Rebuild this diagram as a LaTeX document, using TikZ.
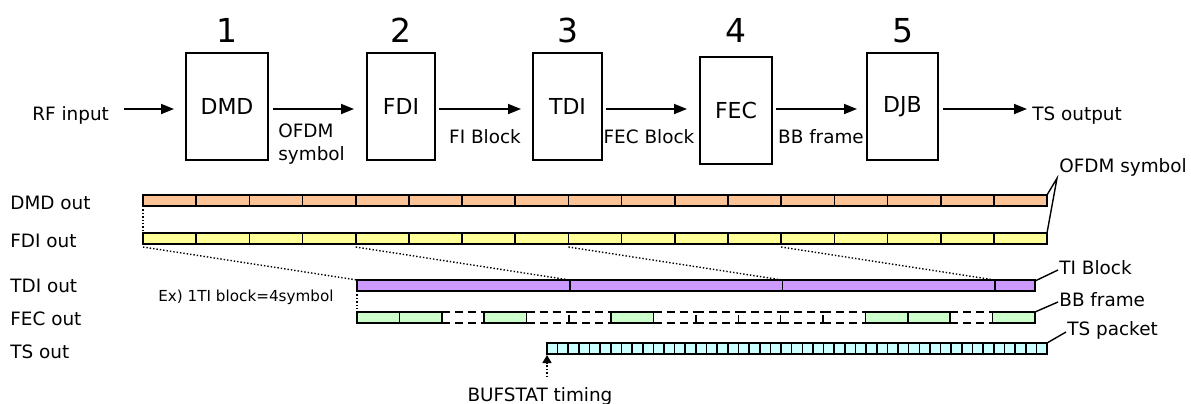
\documentclass[tikz,border=0pt]{standalone}
\usepackage{fontspec}
\setmainfont{DejaVu Sans}
\usetikzlibrary{calc}
\usetikzlibrary{arrows.meta}

\definecolor{dmdcol}{RGB}{252,196,150}
\definecolor{fdicol}{RGB}{255,255,153}
\definecolor{tdicol}{RGB}{204,153,255}
\definecolor{feccol}{RGB}{204,255,204}
\definecolor{tscol}{RGB}{204,255,255}

\begin{document}
\begin{tikzpicture}[x=0.5pt, y=-0.5pt,
    blk/.style={draw, line width=1pt, minimum width=#1, minimum height=53.5pt,
      inner sep=0pt, font=\fontsize{11}{13}\selectfont},
    num/.style={anchor=base, inner sep=0pt, font=\fontsize{16.5}{18}\selectfont},
    lbl/.style={inner sep=0pt, font=\fontsize{9.2}{11.5}\selectfont},
    flow/.style={line width=0.9pt, -{Triangle[length=6.5pt, width=5pt]}},
    cell/.style={draw, line width=0.8pt},
    lead/.style={line width=0.7pt},
    dots/.style={densely dotted, line width=0.7pt}]
    \useasboundingbox (0,0) rectangle (1191,403);

    % processing chain
    \node[blk=41pt] (dmd) at (227,106.5) {DMD};
    \node[blk=34pt] (fdi) at (401,106.5) {FDI};
    \node[blk=34.5pt] (tdi) at (567.5,106.5) {TDI};
    \node[blk=36pt] (fec) at (736,110.5) {FEC};
    \node[blk=35.5pt] (djb) at (902.5,106.5) {DJB};

    \node[num] (n1) at (dmd.north |- 0,42) {1};
    \node[num] (n2) at (fdi.north |- 0,42) {2};
    \node[num] (n3) at (tdi.north |- 0,42) {3};
    \node[num] (n4) at (fec.north |- 0,42) {4};
    \node[num] (n5) at (djb.north |- 0,42) {5};

    \node[lbl, anchor=base west] (rf) at (32,120) {RF input};
    \node[lbl, anchor=base west] (tsout) at (1032,120) {TS output};

    \draw[flow, shorten <=15pt/2] (rf.east |- 0,109) -- ($(dmd.west |- 0,109)+(-11,0)$);
    \draw[flow] ($(dmd.east |- 0,109)+(4,0)$) -- ($(fdi.west |- 0,109)+(-12,0)$);
    \draw[flow] ($(fdi.east |- 0,109)+(3,0)$) -- ($(tdi.west |- 0,109)+(-11,0)$);
    \draw[flow] ($(tdi.east |- 0,109)+(3,0)$) -- ($(fec.west |- 0,109)+(-12,0)$);
    \draw[flow] ($(fec.east |- 0,109)+(3,0)$) -- ($(djb.west |- 0,109)+(-9,0)$);
    \draw[flow] ($(djb.east |- 0,109)+(4,0)$) -- ($(tsout.west |- 0,109)+(-5,0)$);

    \node[lbl, anchor=base west] (ofdm) at (278,137) {OFDM};
    \node[lbl, anchor=base west] (symb) at (278,160) {symbol};
    \node[lbl, anchor=base] (fiblk) at (485,143) {FI Block};
    \node[lbl, anchor=base] (fecblk) at (649,143) {FEC Block};
    \node[lbl, anchor=base] (bbfr) at (821,143) {BB frame};

    % row names
    \node[lbl, anchor=west] (dmdrow) at (10,203) {DMD out};
    \node[lbl, anchor=west] (fdirow) at (10,240.5) {FDI out};
    \node[lbl, anchor=west] (tdirow) at (10,286) {TDI out};
    \node[lbl, anchor=west] (fecrow) at (10,318.5) {FEC out};
    \node[lbl, anchor=west] (tsrow) at (10,352) {TS out};

    % DMD out / FDI out
    \foreach \i in {0,...,16} {
      \draw[cell, fill=dmdcol] ({143+\i*53.18},195) rectangle ++(53.18,11);
      \draw[cell, fill=fdicol] ({143+\i*53.18},233) rectangle ++(53.18,11);
    }
    \draw[dots] (143,206) -- (143,233);
    \foreach \k in {0,...,3}
      \draw[dots] ({143+\k*212.7},247) -- ({357+\k*212.7},280);

    % TDI out
    \foreach \a/\b in {357/569.7, 569.7/782.4, 782.4/995.1, 995.1/1035}
      \draw[cell, fill=tdicol] (\a,280) rectangle (\b,291);
    \draw[dots] (357,291) -- (357,313);
    \node[inner sep=0pt, font=\fontsize{7.6}{9}\selectfont] (ex) at (246,297) {Ex) 1TI block=4symbol};

    % FEC out
    \foreach \i in {0,1,3,6,12,13,15}
      \draw[cell, fill=feccol] ({357+\i*42.375},312) rectangle ++(42.375,11);
    \foreach \i in {2,4,5,7,8,9,10,11,14} {
      \draw[line width=0.8pt, dash pattern=on 4pt off 2.5pt] ({357+\i*42.375},312) -- ++(42.375,0);
      \draw[line width=0.8pt, dash pattern=on 4pt off 2.5pt] ({357+\i*42.375},323) -- ++(42.375,0);
    }
    \foreach \i in {5,8,9,10,11}
      \draw[line width=0.7pt] ({357+\i*42.375},315) -- ++(0,8) -- ++(-3,0);

    % TS out
    \foreach \i in {0,...,46}
      \draw[cell, fill=tscol] ({547+\i*10.638},343) rectangle ++(10.638,11);

    % labels on the right
    \node[lbl, anchor=west] (symlbl) at (1059,167) {OFDM symbol};
    \node[lbl, anchor=west] (tilbl) at (1059,268) {TI Block};
    \node[lbl, anchor=west] (bblbl) at (1059,300) {BB frame};
    \node[lbl, anchor=west] (tslbl) at (1067,330) {TS packet};

    \coordinate (dmdend) at (1047,195);
    \coordinate (fdiend) at (1047,233);
    \coordinate (tdiend) at (1035,281);
    \coordinate (fecend) at (1035,312);
    \coordinate (tsend) at (1047,343);
    \draw[lead] (dmdend) -- ($(symlbl.south west)+(-2,2)$) -- (fdiend);
    \draw[lead] (tdiend) -- ($(tilbl.west)+(-1,2)$);
    \draw[lead] (fecend) -- ($(bblbl.west)+(-1,2)$);
    \draw[lead] (tsend) -- ($(tslbl.west)+(-1,2)$);

    % BUFSTAT
    \node[lbl, anchor=base] (bufstat) at (540,401) {BUFSTAT timing};
    \coordinate (bufstart) at (547,377);
    \coordinate (tsstart) at (547,355);
    \draw[dots, -{Triangle[length=4pt, width=4.5pt]}] (bufstart) -- (tsstart);

\end{tikzpicture}
\end{document}
